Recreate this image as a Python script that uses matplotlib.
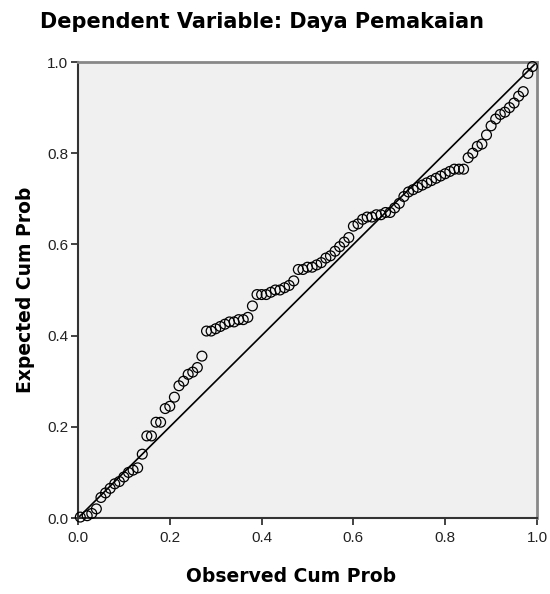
import matplotlib
matplotlib.use("Agg")
import matplotlib.pyplot as plt
import numpy as np

plt.rcParams['font.family'] = ['Liberation Sans', 'DejaVu Sans']

observed = [0.005, 0.02, 0.03, 0.04, 0.05, 0.06, 0.07, 0.08, 0.09, 0.10,
            0.11, 0.12, 0.13, 0.14, 0.15, 0.16, 0.17, 0.18, 0.19, 0.20,
            0.21, 0.22, 0.23, 0.24, 0.25, 0.26, 0.27, 0.28, 0.29, 0.30,
            0.31, 0.32, 0.33, 0.34, 0.35, 0.36, 0.37, 0.38, 0.39, 0.40,
            0.41, 0.42, 0.43, 0.44, 0.45, 0.46, 0.47, 0.48, 0.49, 0.50,
            0.51, 0.52, 0.53, 0.54, 0.55, 0.56, 0.57, 0.58, 0.59, 0.60,
            0.61, 0.62, 0.63, 0.64, 0.65, 0.66, 0.67, 0.68, 0.69, 0.70,
            0.71, 0.72, 0.73, 0.74, 0.75, 0.76, 0.77, 0.78, 0.79, 0.80,
            0.81, 0.82, 0.83, 0.84, 0.85, 0.86, 0.87, 0.88, 0.89, 0.90,
            0.91, 0.92, 0.93, 0.94, 0.95, 0.96, 0.97, 0.98, 0.99]
expected = [0.002, 0.005, 0.01, 0.02, 0.045, 0.055, 0.065, 0.075, 0.08, 0.09,
            0.10, 0.105, 0.11, 0.14, 0.18, 0.18, 0.21, 0.21, 0.24, 0.245,
            0.265, 0.29, 0.30, 0.315, 0.32, 0.33, 0.355, 0.41, 0.41, 0.415,
            0.42, 0.425, 0.43, 0.43, 0.435, 0.435, 0.44, 0.465, 0.49, 0.49,
            0.49, 0.495, 0.50, 0.50, 0.505, 0.51, 0.52, 0.545, 0.545, 0.55,
            0.55, 0.555, 0.56, 0.57, 0.575, 0.585, 0.595, 0.605, 0.615, 0.64,
            0.645, 0.655, 0.66, 0.66, 0.665, 0.665, 0.67, 0.67, 0.68, 0.69,
            0.705, 0.715, 0.72, 0.725, 0.73, 0.735, 0.74, 0.745, 0.75, 0.755,
            0.76, 0.765, 0.765, 0.765, 0.79, 0.80, 0.815, 0.82, 0.84, 0.86,
            0.875, 0.885, 0.89, 0.90, 0.91, 0.925, 0.935, 0.975, 0.99]
ticks = [0.0, 0.2, 0.4, 0.6, 0.8, 1.0]
tick_labels = ['0.0', '0.2', '0.4', '0.6', '0.8', '1.0']

fig = plt.figure(figsize=(5.5, 5.94), dpi=100)
ax = fig.add_axes([78/550, 76/594, 459/550, 456/594])
ax.set_facecolor('#F0F0F0')

ax.plot([0, 1], [0, 1], color='black', lw=1.2, zorder=2)
ax.scatter(observed, expected, s=50, facecolors='none', edgecolors='black',
           linewidths=0.9, zorder=3, clip_on=False)

ax.set_xlim(0, 1)
ax.set_ylim(0, 1)
ax.set_xticks(ticks)
ax.set_xticklabels(tick_labels)
ax.set_yticks(ticks)
ax.set_yticklabels(tick_labels)
ax.tick_params(direction='out', length=5, width=1.2, labelsize=11,
               colors='#222222')
ax.tick_params(axis='x', pad=4)
ax.tick_params(axis='y', pad=2)

for s in ['left', 'bottom']:
    ax.spines[s].set_color('#333333')
    ax.spines[s].set_linewidth(1.5)
for s in ['top', 'right']:
    ax.spines[s].set_color('#888888')
    ax.spines[s].set_linewidth(2.0)

bold_font = ['DejaVu Sans']
fig.text(291/550, 1 - 577/594, 'Observed Cum Prob', fontsize=13.5,
         fontweight='bold', family=bold_font, ha='center', va='center')
fig.text(26/550, 1 - 290/594, 'Expected Cum Prob', fontsize=13.5,
         fontweight='bold', family=bold_font, ha='center', va='center',
         rotation=90)
fig.text(262/550, 1 - 22/594, 'Dependent Variable: Daya Pemakaian',
         fontsize=15, fontweight='bold', family=bold_font,
         ha='center', va='center')

fig.savefig('out.png', dpi=100, facecolor='white')
